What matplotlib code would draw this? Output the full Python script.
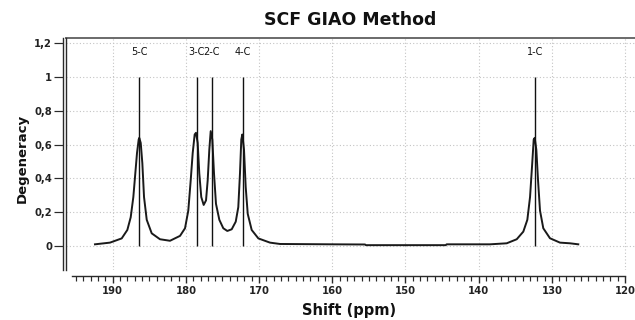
"""NMR shielding overview (SCF GIAO): stick spectrum plus broadened curve."""

from __future__ import annotations

from pathlib import Path

import matplotlib

matplotlib.use("Agg")
import matplotlib.pyplot as plt
from matplotlib.ticker import FixedLocator

# Stick lines: one per carbon, degeneracy 1 each.
SHIFTS = [186.37, 178.52, 176.47, 172.24, 132.30]
DEGENERACY = [1, 1, 1, 1, 1]
PEAK_LABELS = ["5-C", "3-C", "2-C", "4-C", "1-C"]
LABEL_LEVEL = 1.148

# Broadened spectrum (ppm, intensity).
CURVE_PPM = [
    192.42, 190.37, 188.77, 188.00, 187.54, 187.18, 186.91, 186.68, 186.45, 186.37,
    186.17, 185.95, 185.72, 185.35, 184.67, 183.54, 182.17, 180.80, 180.12, 179.67,
    179.34, 179.07, 178.80, 178.62, 178.39, 178.17, 177.90, 177.57, 177.25, 177.02,
    176.80, 176.61, 176.39, 176.16, 175.89, 175.43, 174.89, 174.34, 173.74, 173.19,
    172.84, 172.61, 172.43, 172.29, 172.06, 171.83, 171.55, 171.01, 170.10, 168.51,
    167.14, 160.00, 155.53, 155.40, 144.50, 144.37, 138.45, 136.17, 134.80, 133.90,
    133.35, 132.98, 132.71, 132.48, 132.34, 132.12, 131.89, 131.62, 131.17, 130.26,
    128.89, 127.52, 126.39,
]
CURVE_INTENSITY = [
    0.010, 0.020, 0.045, 0.095, 0.170, 0.290, 0.430, 0.550, 0.630, 0.640,
    0.610, 0.490, 0.290, 0.155, 0.075, 0.040, 0.031, 0.060, 0.105, 0.210,
    0.390, 0.550, 0.660, 0.670, 0.610, 0.430, 0.290, 0.243, 0.270, 0.390,
    0.570, 0.680, 0.630, 0.430, 0.250, 0.155, 0.105, 0.089, 0.099, 0.144,
    0.230, 0.430, 0.630, 0.660, 0.570, 0.350, 0.190, 0.095, 0.045, 0.020,
    0.012, 0.010, 0.009, 0.005, 0.005, 0.010, 0.010, 0.016, 0.040, 0.085,
    0.155, 0.290, 0.470, 0.630, 0.640, 0.570, 0.390, 0.210, 0.105, 0.046,
    0.020, 0.016, 0.010,
]

X_TICKS = [190, 180, 170, 160, 150, 140, 130, 120]
X_MINOR = list(range(121, 196))
Y_TICKS = [0, 0.2, 0.4, 0.6, 0.8, 1.0, 1.2]
Y_TICK_LABELS = ["0", "0,2", "0,4", "0,6", "0,8", "1", "1,2"]

TITLE = "SCF GIAO Method"
X_LABEL = "Shift (ppm)"
Y_LABEL = "Degeneracy"

PX = 0.72  # points per pixel at dpi=100
AXIS_COLOR = "#2a2a2a"


def plot_spectrum(output: Path) -> Path:
    """Draw the stick + curve spectrum in the GaussView-like frame."""
    fig = plt.figure(figsize=(6.35, 3.2), dpi=100)
    ax = fig.add_axes([66 / 635, 1 - 270 / 320, 1 - 66 / 635, (270 - 38) / 320])

    ax.plot(CURVE_PPM, CURVE_INTENSITY, color="#1a1a1a", linewidth=1.4, zorder=3)
    ax.vlines(SHIFTS, 0, DEGENERACY, color="#111111", linewidth=1.0, zorder=4)
    for shift, label in zip(SHIFTS, PEAK_LABELS, strict=True):
        ax.text(shift, LABEL_LEVEL, label, ha="center", va="center",
                fontsize=7, color="#111111")

    ax.set_xlim(196.38, 118.64)
    ax.set_ylim(-0.142, 1.231)

    ax.xaxis.set_major_locator(FixedLocator(X_TICKS))
    ax.xaxis.set_minor_locator(FixedLocator(X_MINOR))
    ax.set_yticks(Y_TICKS)
    ax.set_yticklabels(Y_TICK_LABELS)
    ax.grid(True, which="major", linestyle=(0, (1, 2)), color="#c4c4c4", linewidth=0.8)
    ax.set_axisbelow(True)

    # frame: gray top bar, double left line, detached bottom axis
    ax.spines["right"].set_visible(False)
    ax.spines["top"].set_color("#6e6e6e")
    ax.spines["top"].set_linewidth(2 * PX)
    ax.spines["left"].set_position(("outward", 3 * PX))
    ax.spines["left"].set_color(AXIS_COLOR)
    ax.spines["left"].set_linewidth(1.4 * PX)
    ax.plot([0, 0], [0, 1], transform=ax.transAxes, color=AXIS_COLOR,
            linewidth=1.4 * PX, clip_on=False, zorder=5)
    ax.spines["bottom"].set_position(("outward", 5.5 * PX))
    ax.spines["bottom"].set_bounds(195.5, 120)
    ax.spines["bottom"].set_color(AXIS_COLOR)
    ax.spines["bottom"].set_linewidth(1.4 * PX)

    ax.tick_params(axis="y", direction="out", length=9 * PX, width=1.2 * PX,
                   color=AXIS_COLOR, pad=2 * PX)
    ax.tick_params(axis="x", which="major", direction="out", length=7 * PX,
                   width=1.4 * PX, color=AXIS_COLOR, pad=4 * PX)
    ax.tick_params(axis="x", which="minor", direction="out", length=4.5 * PX,
                   width=1.2 * PX, color=AXIS_COLOR)
    for lbl in ax.get_xticklabels() + ax.get_yticklabels():
        lbl.set_fontsize(7.2)
        lbl.set_fontweight("bold")
        lbl.set_color("#222222")

    fig.text(350 / 635, 1 - 20 / 320, TITLE, ha="center", va="center",
             fontsize=12.5, fontweight="bold", color="#111111")
    fig.text(349 / 635, 1 - 310 / 320, X_LABEL, ha="center", va="center",
             fontsize=10.5, fontweight="bold", color="#111111")
    fig.text(22 / 635, 1 - 158 / 320, Y_LABEL, ha="center", va="center",
             rotation=90, fontsize=9.5, fontweight="bold", color="#111111")

    fig.savefig(output, dpi=100)
    plt.close(fig)
    return output


if __name__ == "__main__":
    plot_spectrum(Path("out.png"))
